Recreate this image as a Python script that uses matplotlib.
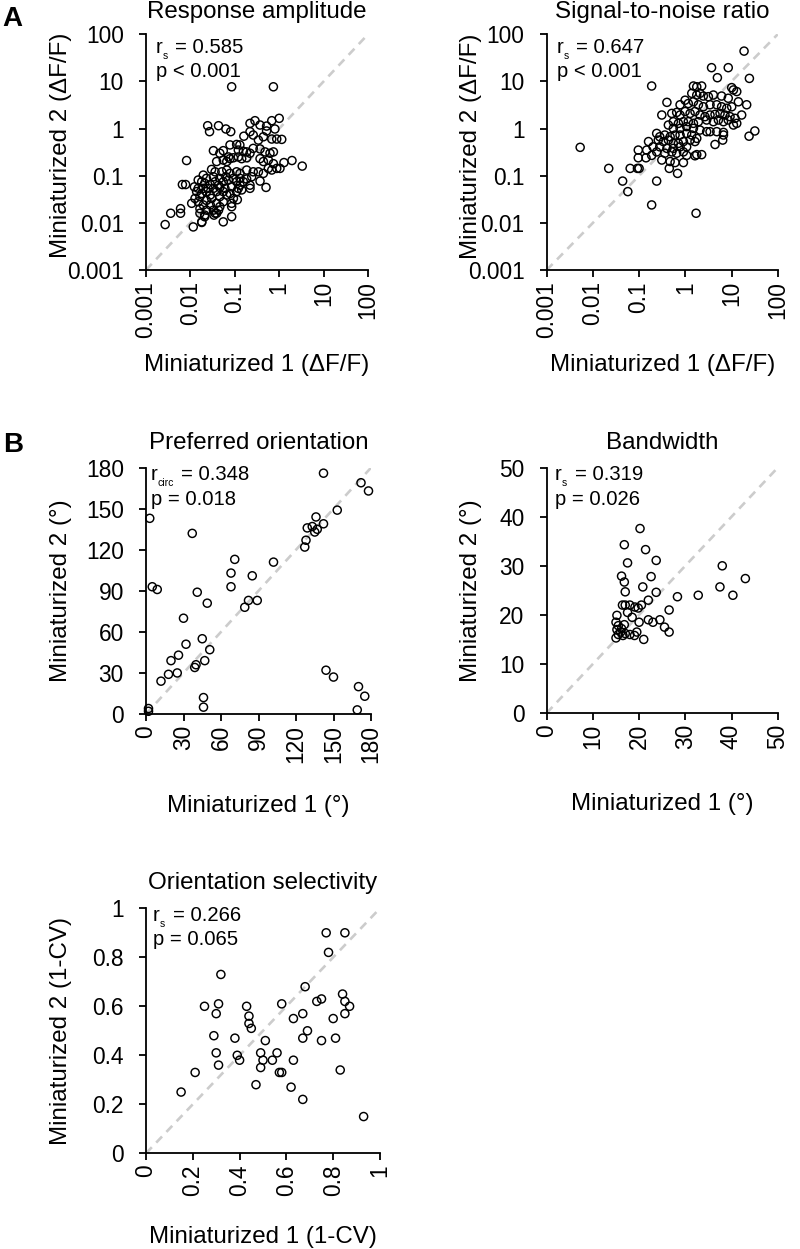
import matplotlib
matplotlib.use('Agg')
import matplotlib.pyplot as plt

plt.rcParams['font.family'] = ['Liberation Sans', 'DejaVu Sans']

# ---------------- data ----------------
# Response amplitude (dF/F), log-log
amp_x = [0.085, 0.74,
         0.0245, 0.027, 0.043, 0.063, 0.081,
         0.22, 0.285, 0.37, 0.52, 0.68, 1.0, 0.52, 0.80, 1.14,
         0.16, 0.22, 0.26, 0.34, 0.44, 0.68, 0.88,
         0.033, 0.046, 0.055, 0.078, 0.11, 0.13, 0.12, 0.156, 0.185, 0.22, 0.26, 0.37, 0.48, 0.62, 0.74,
         0.072, 0.093, 0.12, 0.143, 0.185, 0.0082,
         0.37, 0.44, 0.57, 0.74, 0.88, 1.04, 1.28, 1.94, 3.3,
         0.039, 0.055, 0.066, 0.078,
         0.030, 0.036, 0.051, 0.066, 0.078, 0.11, 0.131, 0.185, 0.26, 0.34, 0.44, 0.57, 0.68,
         0.0195, 0.023, 0.033, 0.046, 0.063, 0.093, 0.131, 0.185, 0.24,
         0.015, 0.018, 0.021, 0.028, 0.036, 0.043, 0.055, 0.072, 0.11, 0.131, 0.156, 0.22, 0.37, 0.505,
         0.0066, 0.0078, 0.0123, 0.015, 0.0195, 0.025, 0.033, 0.046, 0.060, 0.085, 0.12, 0.143, 0.22,
         0.0138, 0.018, 0.023, 0.028, 0.039, 0.055, 0.078, 0.11,
         0.0127, 0.0164, 0.023, 0.030, 0.046, 0.066, 0.093,
         0.0107, 0.015, 0.0195, 0.028, 0.039, 0.055, 0.085, 0.114,
         0.0164, 0.023, 0.033, 0.046, 0.085, 0.006, 0.006, 0.0036,
         0.0164, 0.021, 0.036, 0.043, 0.018, 0.021, 0.039, 0.055, 0.085,
         0.0027, 0.0116, 0.018, 0.034]
amp_y = [7.7, 7.7,
         1.15, 0.86, 1.15, 0.98, 0.86,
         1.29, 1.47, 1.19, 1.13, 1.47, 1.65, 0.89, 0.98, 0.59,
         0.69, 0.86, 0.73, 0.57, 0.67, 0.60, 0.60,
         0.34, 0.30, 0.34, 0.45, 0.46, 0.45, 0.35, 0.33, 0.32, 0.30, 0.38, 0.37, 0.32, 0.30, 0.32,
         0.25, 0.24, 0.25, 0.23, 0.24, 0.21,
         0.23, 0.20, 0.215, 0.18, 0.143, 0.143, 0.19, 0.21, 0.16,
         0.20, 0.215, 0.20, 0.23,
         0.136, 0.121, 0.121, 0.132, 0.112, 0.121, 0.112, 0.132, 0.121, 0.121, 0.112, 0.143, 0.132,
         0.103, 0.088, 0.095, 0.088, 0.095, 0.088, 0.088, 0.085, 0.095,
         0.081, 0.0745, 0.069, 0.065, 0.0745, 0.063, 0.0745, 0.081, 0.0745, 0.063, 0.0745, 0.063, 0.077, 0.0565,
         0.065, 0.065, 0.058, 0.054, 0.054, 0.054, 0.054, 0.0565, 0.054, 0.058, 0.054, 0.050, 0.054,
         0.046, 0.042, 0.046, 0.039, 0.046, 0.046, 0.042, 0.046,
         0.033, 0.036, 0.030, 0.033, 0.036, 0.039, 0.033,
         0.026, 0.028, 0.024, 0.024, 0.026, 0.028, 0.026, 0.031,
         0.020, 0.0186, 0.0186, 0.022, 0.022, 0.020, 0.016, 0.016,
         0.016, 0.0146, 0.016, 0.0186, 0.0105, 0.0135, 0.016, 0.0105, 0.0135,
         0.0092, 0.0082, 0.0102, 0.0146]

# Signal-to-noise ratio, log-log
snr_x = [18.7, 3.7, 8.5, 4.95, 24.4, 0.187,
         1.50, 1.77, 2.26, 10.1, 13.0, 11.0,
         1.38, 1.77, 2.08, 2.46, 3.16, 4.05, 6.1, 8.5, 14.1, 21.3,
         0.40, 0.77, 0.99, 1.16, 1.50, 1.92, 2.46, 3.43, 4.8, 6.1, 7.9, 10.1,
         0.31, 0.51, 0.65, 0.77, 0.99, 1.27, 1.62, 2.08, 2.67, 3.43, 4.4, 5.65, 7.2, 9.3, 11.9, 16.6,
         0.55, 0.71, 0.91, 1.16, 1.50, 1.92, 2.90, 4.05, 5.2, 6.7, 8.5,
         0.43, 0.55, 0.77, 1.07, 1.50, 2.08, 2.90, 3.43, 4.8, 6.7, 11.0, 13.0,
         0.24, 0.28, 0.36, 0.47, 0.60, 0.77, 1.07, 1.38, 1.77,
         0.26, 0.335, 0.43, 0.55, 0.71, 0.91, 1.27, 1.62, 4.4, 6.45, 6.7, 24.0, 32.0,
         0.16, 0.20, 0.28, 0.40, 0.55, 0.77, 1.07, 0.0053,
         0.096, 0.146, 0.24, 0.36, 0.51, 0.65, 0.91, 1.62, 1.77, 2.26,
         0.096, 0.141, 0.187, 0.31, 0.47, 0.60, 0.91, 1.07,
         0.064, 0.092, 0.10, 0.45, 0.68, 0.022,
         0.044, 0.24, 0.057, 0.187, 1.71]
snr_y = [44.0, 19.6, 19.6, 12.0, 11.6, 8.0,
         8.0, 7.7, 8.0, 7.4, 6.1, 6.6,
         5.6, 5.15, 5.6, 4.9, 4.75, 5.15, 4.9, 4.4, 3.7, 3.2,
         3.6, 3.2, 4.0, 3.4, 3.7, 3.2, 2.9, 3.2, 3.2, 2.9, 2.7, 2.9,
         1.94, 2.1, 2.2, 1.94, 2.3, 2.1, 2.3, 1.94, 1.79, 1.94, 2.0, 2.1, 1.94, 1.79, 1.65, 1.94,
         1.40, 1.29, 1.40, 1.40, 1.29, 1.40, 1.52, 1.40, 1.52, 1.40, 1.52,
         1.19, 1.01, 1.01, 1.10, 1.01, 0.93, 0.86, 0.86, 0.86, 0.83, 1.19, 1.29,
         0.79, 0.67, 0.73, 0.67, 0.73, 0.73, 0.79, 0.73, 0.62,
         0.57, 0.53, 0.57, 0.485, 0.485, 0.53, 0.57, 0.53, 0.46, 0.57, 0.73, 0.69, 0.89,
         0.53, 0.41, 0.41, 0.38, 0.38, 0.41, 0.41, 0.40,
         0.35, 0.35, 0.32, 0.30, 0.32, 0.30, 0.32, 0.265, 0.28, 0.28,
         0.24, 0.24, 0.27, 0.215, 0.20, 0.19, 0.19, 0.27,
         0.143, 0.143, 0.143, 0.143, 0.112, 0.143,
         0.077, 0.077, 0.046, 0.024, 0.016]

# Preferred orientation (deg)
ori_x = [142, 172, 178, 153,
         136, 142, 129, 137, 135, 133, 128, 127,
         102, 71, 68, 68, 85, 37, 3, 5, 9,
         41, 49, 79, 82, 89, 30, 32, 45, 51, 26, 20, 40, 39, 47,
         12, 18, 25, 46, 46, 144, 150, 170, 175, 169, 2, 2]
ori_y = [176, 169, 163, 149,
         144, 139, 136, 135, 133, 137, 127, 122,
         111, 113, 103, 93, 101, 132, 143, 93, 91,
         89, 81, 78, 83, 83, 70, 51, 55, 47, 43, 39, 36, 34, 39,
         24, 29, 30, 12, 5, 32, 27, 20, 13, 3, 4, 2]

# Bandwidth (deg)
bw_x = [20.2, 16.8, 21.4, 17.5, 23.7, 38.0, 16.2, 16.8, 22.6, 20.8, 43.0,
        37.5, 40.3, 32.8, 28.3, 23.7, 22.0, 17.0,
        16.4, 17.0, 18.0, 19.1, 19.8, 20.5, 15.2, 26.5,
        15.0, 15.5, 15.2, 16.0, 15.5, 16.5, 15.0, 17.0, 16.2, 16.8, 18.0, 19.0,
        19.5, 21.0, 22.0, 23.0, 24.5, 25.5, 26.5, 20.0, 18.5, 17.5]
bw_y = [37.6, 34.3, 33.3, 30.6, 31.1, 30.0, 27.9, 26.7, 27.8, 25.7, 27.4,
        25.7, 24.0, 24.0, 23.7, 24.6, 23.0, 24.7,
        22.0, 22.0, 22.0, 21.6, 21.4, 22.0, 19.9, 21.0,
        18.5, 17.8, 17.0, 16.5, 16.0, 15.8, 15.3, 16.2, 17.2, 18.0, 16.0, 15.8,
        16.5, 15.0, 19.0, 18.5, 19.0, 17.5, 16.5, 18.5, 19.5, 20.5]

# Orientation selectivity (1-CV)
osi_x = [0.77, 0.85, 0.78, 0.32, 0.68, 0.25, 0.31, 0.30, 0.43, 0.44, 0.44, 0.45,
         0.58, 0.63, 0.67, 0.73, 0.75, 0.84, 0.85, 0.87, 0.85, 0.80, 0.69, 0.67,
         0.75, 0.81, 0.83, 0.93, 0.67, 0.62, 0.63, 0.57, 0.58, 0.56, 0.54, 0.51,
         0.49, 0.50, 0.49, 0.47, 0.38, 0.39, 0.40, 0.29, 0.30, 0.31, 0.21, 0.15]
osi_y = [0.90, 0.90, 0.82, 0.73, 0.68, 0.60, 0.61, 0.57, 0.60, 0.56, 0.53, 0.51,
         0.61, 0.55, 0.57, 0.62, 0.63, 0.65, 0.62, 0.60, 0.57, 0.55, 0.50, 0.47,
         0.46, 0.47, 0.34, 0.15, 0.22, 0.27, 0.38, 0.33, 0.33, 0.41, 0.38, 0.46,
         0.41, 0.38, 0.35, 0.28, 0.47, 0.40, 0.38, 0.48, 0.41, 0.36, 0.33, 0.25]

log_ticks = [0.001, 0.01, 0.1, 1, 10, 100]
log_labels = ['0.001', '0.01', '0.1', '1', '10', '100']
ori_ticks = [0, 30, 60, 90, 120, 150, 180]
bw_ticks = [0, 10, 20, 30, 40, 50]
osi_ticks = [0, 0.2, 0.4, 0.6, 0.8, 1]
osi_labels = ['0', '0.2', '0.4', '0.6', '0.8', '1']

# ---------------- figure ----------------
W, H = 800, 1249
fig = plt.figure(figsize=(W / 100, H / 100), dpi=100)


def axes_px(l, t, r, b):
    return fig.add_axes([l / W, 1 - b / H, (r - l) / W, (b - t) / H])


TITLE_FS = 17.4
LABEL_FS = 17.4
TICK_FS = 16.4
STAT_FS = 14.6


def style(ax, lim, ticks, labels, log=False):
    if log:
        ax.set_xscale('log')
        ax.set_yscale('log')
    ax.set_xlim(lim)
    ax.set_ylim(lim)
    ax.set_xticks(ticks)
    ax.set_yticks(ticks)
    ax.set_xticklabels(labels, rotation=90)
    ax.set_yticklabels(labels)
    ax.minorticks_off()
    for s in ['top', 'right']:
        ax.spines[s].set_visible(False)
    for s in ['left', 'bottom']:
        ax.spines[s].set_linewidth(1.3)
    ax.tick_params(axis='both', direction='out', length=5, width=1.3,
                   labelsize=TICK_FS, colors='black')
    ax.tick_params(axis='y', pad=11)
    ax.tick_params(axis='x', pad=3)
    ax.patch.set_alpha(0)
    ax.plot(lim, lim, color='#cccccc', lw=1.9, dashes=(3.2, 2.4), zorder=1)


def scatter(ax, x, y):
    ax.scatter(x, y, s=34, facecolors='none', edgecolors='black',
               linewidths=1.05, zorder=3, clip_on=False)


def labels(ax, title, xl, yl, xl_y, yl_x, yl_y=0.5, tpad=13.7):
    ax.set_title(title, fontsize=TITLE_FS, pad=tpad)
    ax.set_xlabel(xl, fontsize=LABEL_FS, va='baseline')
    ax.xaxis.set_label_coords(0.5, xl_y)
    ax.set_ylabel(yl, fontsize=LABEL_FS, va='baseline')
    ax.yaxis.set_label_coords(yl_x, yl_y)


def stats(ax, sub, rtxt, ptxt, dx, dy1, dy2, eqoff):
    kw = dict(xy=(0, 1), xycoords='axes fraction', textcoords='offset points',
              va='baseline', ha='left')
    ax.annotate('r', xytext=(dx, -dy1), fontsize=STAT_FS, **kw)
    ax.annotate(sub, xytext=(dx + 4.9, -dy1 - 4.3), fontsize=7.5, **kw)
    ax.annotate(rtxt, xytext=(dx + eqoff, -dy1), fontsize=STAT_FS, **kw)
    ax.annotate(ptxt, xytext=(dx, -dy2), fontsize=STAT_FS, **kw)


# A left: response amplitude
ax1 = axes_px(146, 34.3, 368, 270)
style(ax1, (0.001, 100), log_ticks, log_labels, log=True)
scatter(ax1, amp_x, amp_y)
labels(ax1, 'Response amplitude', 'Miniaturized 1 (\u0394F/F)',
       'Miniaturized 2 (\u0394F/F)', -0.427, -0.356, 0.53, tpad=12.0)
stats(ax1, 's', '= 0.585', 'p < 0.001', 7.0, 13.7, 31.0, 14.0)

# A right: SNR
ax2 = axes_px(546.7, 34.3, 777.7, 270)
style(ax2, (0.001, 100), log_ticks, log_labels, log=True)
scatter(ax2, snr_x, snr_y)
labels(ax2, 'Signal-to-noise ratio', 'Miniaturized 1 (\u0394F/F)',
       'Miniaturized 2 (\u0394F/F)', -0.427, -0.302, 0.525, tpad=12.0)
stats(ax2, 's', '= 0.647', 'p < 0.001', 7.2, 13.7, 31.0, 14.0)

# B left: preferred orientation
ax3 = axes_px(146, 467.7, 371, 714)
style(ax3, (0, 180), ori_ticks, [str(t) for t in ori_ticks])
scatter(ax3, ori_x, ori_y)
labels(ax3, 'Preferred orientation', 'Miniaturized 1 (\u00b0)',
       'Miniaturized 2 (\u00b0)', -0.397, -0.351)
stats(ax3, 'circ', '= 0.348', 'p = 0.018', 3.3, 9.0, 26.6, 21.6)

# B right: bandwidth
ax4 = axes_px(546.7, 467.7, 777.7, 713)
style(ax4, (0, 50), bw_ticks, [str(t) for t in bw_ticks])
scatter(ax4, bw_x, bw_y)
labels(ax4, 'Bandwidth', 'Miniaturized 1 (\u00b0)',
       'Miniaturized 2 (\u00b0)', -0.397, -0.302)
stats(ax4, 's', '= 0.319', 'p = 0.026', 6.0, 9.0, 26.6, 14.5)

# C: orientation selectivity
ax5 = axes_px(146, 908.3, 380, 1153.3)
style(ax5, (0, 1), osi_ticks, osi_labels)
scatter(ax5, osi_x, osi_y)
labels(ax5, 'Orientation selectivity', 'Miniaturized 1 (1-CV)',
       'Miniaturized 2 (1-CV)', -0.367, -0.338)
stats(ax5, 's', '= 0.266', 'p = 0.065', 5.0, 9.0, 26.6, 14.5)

fig.text(2 / W, 1 - 26 / H, 'A', fontsize=20, fontweight='bold', va='baseline')
fig.text(3 / W, 1 - 452 / H, 'B', fontsize=20, fontweight='bold', va='baseline')

fig.savefig('out.png', dpi=100)
